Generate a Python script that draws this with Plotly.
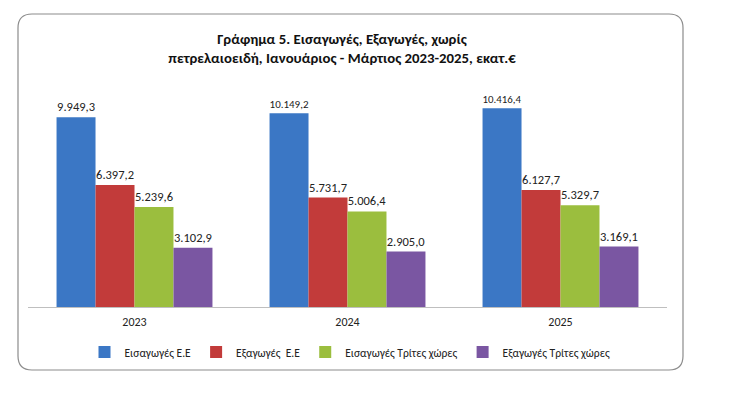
import plotly.graph_objects as go

years = ["2023", "2024", "2025"]
series_names = ["Εισαγωγές Ε.Ε", "Εξαγωγές\u00a0 Ε.Ε", "Εισαγωγές Τρίτες χώρες", "Εξαγωγές Τρίτες χώρες"]
imports_eu = [9949.3, 10149.2, 10416.4]
exports_eu = [6397.2, 5731.7, 6127.7]
imports_third = [5239.6, 5006.4, 5329.7]
exports_third = [3102.9, 2905.0, 3169.1]
colors = ["#3B77C5", "#C23B3A", "#9BBE3E", "#7A56A2"]

def fmt(v):
    s = f"{v:,.1f}"
    return s.replace(",", "X").replace(".", ",").replace("X", ".")

font_main = "Carlito, Calibri, 'Open Sans', sans-serif"

fig = go.Figure()
for name, vals, c in zip(series_names, [imports_eu, exports_eu, imports_third, exports_third], colors):
    fig.add_trace(go.Bar(
        x=years, y=vals, name=name, marker=dict(color=c, line=dict(width=0)),
        text=[fmt(v) for v in vals], textposition="outside",
        textfont=dict(size=12.5, color="#222", family=font_main),
        cliponaxis=False,
    ))

L, R, T, B = 28, 667, 78, 307
W, H = 730, 398
def px(x):
    return (x - L) / (R - L)
def py(y):
    return (B - y) / (B - T)

x0, x1, y0, y1, r = 18, 683, 14, 370, 14
path = (f"M {px(x0+r)},{py(y0)} L {px(x1-r)},{py(y0)} Q {px(x1)},{py(y0)} {px(x1)},{py(y0+r)} "
        f"L {px(x1)},{py(y1-r)} Q {px(x1)},{py(y1)} {px(x1-r)},{py(y1)} "
        f"L {px(x0+r)},{py(y1)} Q {px(x0)},{py(y1)} {px(x0)},{py(y1-r)} "
        f"L {px(x0)},{py(y0+r)} Q {px(x0)},{py(y0)} {px(x0+r)},{py(y0)} Z")

fig.add_shape(type="path", path=path, xref="paper", yref="paper",
              line=dict(color="#8C8C8C", width=1.2), fillcolor="rgba(0,0,0,0)", layer="below")

fig.update_layout(
    width=W, height=H,
    margin=dict(l=L, r=W - R, t=T, b=H - B),
    paper_bgcolor="white", plot_bgcolor="white",
    barmode="group", bargap=0.268, bargroupgap=0,
    font=dict(family=font_main, size=12, color="#222"),
    title=dict(
        text="<b>Γράφημα 5. Εισαγωγές, Εξαγωγές, χωρίς<br>πετρελαιοειδή, Ιανουάριος - Μάρτιος 2023-2025, εκατ.€</b>",
        x=342 / W, xanchor="center", xref="container",
        y=1 - 44 / H, yanchor="middle", yref="container",
        font=dict(size=14.8, color="#111", family=font_main),
    ),
    xaxis=dict(showline=True, linecolor="#BFBFBF", linewidth=1, ticks="", showgrid=False,
               tickfont=dict(size=12, color="#222"), ticklabelstandoff=4),
    yaxis=dict(range=[0, 12000], visible=False, showgrid=False),
    legend=dict(orientation="h", x=px(350), xanchor="center", y=py(352), yanchor="middle",
                font=dict(size=11.5, color="#222"), itemwidth=30, traceorder="normal",
                bgcolor="rgba(0,0,0,0)"),
)

fig.write_html("out.html", config={"displayModeBar": False},
               post_script="document.body.style.margin='0';")
